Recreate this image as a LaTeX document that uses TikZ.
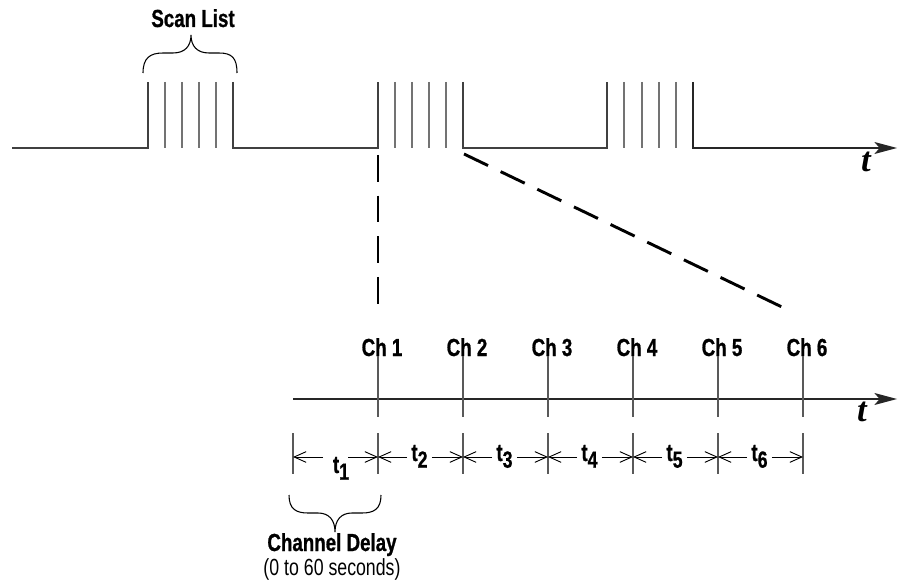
\documentclass[tikz,border=0pt]{standalone}
\usepackage{fontspec}
\setmainfont{Liberation Sans}[FakeStretch=0.76, BoldFeatures={FakeBold=0.8}]
\newfontfamily\axisfont{Liberation Serif}
\usetikzlibrary{arrows.meta}
\begin{document}
\begin{tikzpicture}[x=0.75pt,y=-0.75pt,
 wave/.style={line width=0.9pt, draw=black!75},
 pulse/.style={line width=0.8pt, draw=black!55},
 dashline/.style={line width=2.2pt, dash pattern=on 20pt off 10.5pt},
 axis/.style={line width=0.9pt, draw=black!85, -{Stealth[length=17pt,width=9pt,inset=4pt]}},
 chline/.style={line width=0.8pt, draw=black!65},
 dim/.style={line width=0.7pt, -{Straight Barb[length=9pt,width=8pt]}},
 lbl/.style={font=\fontsize{18.5}{20}\bfseries\selectfont, inner ysep=0pt, inner xsep=3pt},
 brace/.style={line width=0.8pt},
 taxis/.style={font=\axisfont\fontsize{26}{28}\bfseries\itshape\selectfont, inner sep=0pt, anchor=base}]
\useasboundingbox (0,0) rectangle (898,580);

% top waveform
\draw[wave] (12,148) -- (148,148) -- (148,82);
\draw[wave] (233,82) -- (233,148) -- (378,148) -- (378,82);
\draw[wave] (463,82) -- (463,148) -- (607,148) -- (607,82);
\draw[wave,axis] (693,82) -- (693,148) -- (897,148);
\foreach \x in {165,182,199,216,395,412,429,446,624,642,659,676}
  \draw[pulse] (\x,82) -- (\x,148);

% scan list brace and label
\draw[brace] (143,73) .. controls (143,58) and (150,53) .. (163,53) -- (173,53)
  .. controls (185,53) and (191,46) .. (191,35)
  .. controls (191,46) and (197,53) .. (209,53) -- (219,53)
  .. controls (232,53) and (237,58) .. (237,73);
\node[lbl, anchor=base] (scan) at (193,27) {Scan List};

% axis label t
\node[taxis] (tu) at (866,172) {t};

% zoom dashed lines
\coordinate (za) at (378,155);
\coordinate (zb) at (378,307);
\coordinate (zc) at (464,154);
\coordinate (zd) at (784,308);
\draw[dashline] (za) -- (zb);
\draw[dashline] (zc) -- (zd);

% lower axis
\coordinate (la) at (293,399);
\coordinate (lb) at (897,399);
\draw[axis] (la) -- (lb);
\node[taxis] (tl) at (862,421) {t};

% channel labels and lines
\foreach \i/\x in {1/378,2/463,3/548,4/633,5/718,6/803} {
  \node[lbl, anchor=base, inner xsep=0pt] (ch\i) at (\x+4,356) {Ch \i};
  \coordinate (cht\i) at (\x,356);
  \coordinate (chb\i) at (\x,417);
  \draw[chline] (cht\i) -- (chb\i);
}

% dimension ticks
\foreach \i/\x in {0/293,1/378,2/463,3/548,4/633,5/718,6/803} {
  \coordinate (k\i) at (\x,457);
  \coordinate (ka\i) at (\x,433);
  \coordinate (kb\i) at (\x,474);
  \draw[chline] (ka\i) -- (kb\i);
}

% interval labels
\node[lbl, anchor=base] (lt1) at (341,473) {t\raisebox{-5pt}{\fontsize{17.5}{18}\selectfont 1}};
\coordinate (t1a) at (323,457);
\coordinate (t1b) at (348,457);
\draw[dim] (t1a) -- (k0);
\draw[dim] (t1b) -- (k1);
\foreach \i/\p in {2/1,3/2,4/3,5/4,6/5} {
  \node[lbl, anchor=base] (lt\i) at ({419.5+85*(\i-2)},461) {t\raisebox{-5pt}{\fontsize{17.5}{18}\selectfont \i}};
  \draw[dim] (lt\i.west |- k\p) -- (k\p);
  \draw[dim] (lt\i.east |- k\i) -- (k\i);
}

% channel delay brace
\draw[brace] (289,495) .. controls (289,509) and (296,513) .. (308,513) -- (318,513)
  .. controls (329,513) and (335,520) .. (335,532)
  .. controls (335,520) and (341,513) .. (352,513) -- (362,513)
  .. controls (374,513) and (381,509) .. (381,495);
\node[lbl, anchor=base] (cd) at (332,551) {Channel Delay};
\node[anchor=base, inner sep=0pt, font=\fontsize{17.5}{19}\selectfont] (sec) at (332,575) {(0 to 60 seconds)};
\end{tikzpicture}
\end{document}
